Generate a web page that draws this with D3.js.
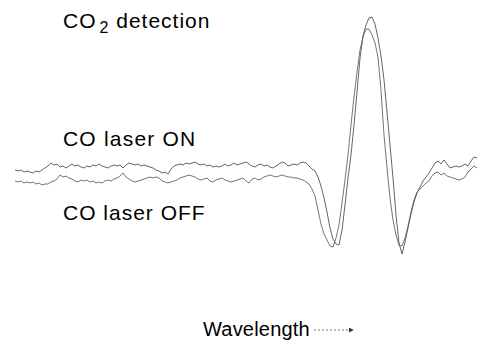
<!DOCTYPE html>
<html>
<head>
<meta charset="utf-8">
<script src="https://cdn.jsdelivr.net/npm/d3@7"></script>
<style>
  html, body { margin: 0; padding: 0; background: #fff; }
  svg { display: block; }
  text { font-family: "Liberation Sans", Arial, sans-serif; fill: #000; }
</style>
</head>
<body>
<svg id="chart" width="477" height="341"></svg>
<script>
// Signal (arbitrary units, baseline ~0) sampled at equal wavelength steps
const laserOn = [
  5,4,5,3,4,3,2,4,3,5,
  7,9,12,10,11,8,9,7,9,11,
  9,10,8,7,9,8,10,9,11,9,
  8,7,9,10,9,10,7,10,12,11,
  10,11,9,10,9,8,7,5,4,2,
  3,1,6,9,10,11,10,12,11,12,
  13,11,10,11,9,10,8,9,8,9,
  11,9,10,12,10,11,12,13,11,9,
  8,10,11,9,10,8,7,9,11,13,
  12,9,10,11,10,12,13,12,9,6,
  4,-2,-11,-23,-37,-53,-64,-69,-70,-55,
  -30,-3,20,50,83,117,139,150,157,158,
  151,137,119,95,63,30,-3,-40,-68,-79,
  -67,-53,-39,-27,-18,-12,-6,-2,2,7,
  12,14,11,15,11,7,8,9,8,9,
  11,9,14,18,17
];
const laserOff = [
  -6,-7,-6,-8,-7,-8,-7,-9,-8,-10,
  -9,-9,-7,-6,-4,0,-2,-1,-3,-4,
  -6,-7,-5,-6,-5,-7,-6,-8,-7,-8,
  -6,-5,-6,-4,-3,-1,2,-2,-4,-6,
  -7,-6,-5,-4,-3,-2,-3,-2,-3,-6,
  -7,-8,-7,-6,-5,-3,-2,-1,0,-1,
  -2,-4,-5,-4,-3,-6,-7,-5,-4,-3,
  -5,-6,-7,-6,-5,-4,-3,-6,-8,-4,
  -3,-5,-4,-2,-1,0,-1,-2,-1,0,
  -1,-2,-2,-3,-3,-4,-5,-7,-9,-14,
  -21,-35,-49,-59,-65,-71,-72,-63,-50,-28,
  -5,20,50,78,103,125,138,146,146,140,
  132,118,85,40,7,-23,-45,-60,-70,-71,
  -63,-51,-37,-25,-17,-14,-11,-8,-6,-1,
  2,3,0,2,-1,-2,-3,-4,-5,-4,
  -2,3,6,9,7
];
const seriesNames = ["CO laser ON", "CO laser OFF"];
const titleText = ["CO", "2", " detection"];
const xLabel = "Wavelength";

const svg = d3.select("#chart");

const x = d3.scaleLinear().domain([0, laserOn.length - 1]).range([15, 477]);
const y = d3.scaleLinear().domain([-100, 160]).range([275, 15]);

const line = d3.line()
  .x((d, i) => x(i))
  .y(d => y(d))
  .curve(d3.curveLinear);

svg.append("path").datum(laserOff)
  .attr("d", line).attr("fill", "none")
  .attr("stroke", "#666").attr("stroke-width", 0.9);
svg.append("path").datum(laserOn)
  .attr("d", line).attr("fill", "none")
  .attr("stroke", "#555").attr("stroke-width", 0.9);

// Title with subscript
const t = svg.append("text").attr("x", 63).attr("y", 28)
  .attr("font-size", 21).attr("letter-spacing", 1);
t.append("tspan").text(titleText[0]);
t.append("tspan").attr("dy", 5).attr("font-size", 16).attr("dx", 3).text(titleText[1]);
t.append("tspan").attr("dy", -5).text(titleText[2]);

svg.append("text").attr("x", 63).attr("y", 146)
  .attr("font-size", 21).attr("letter-spacing", 1.2).text(seriesNames[0]);
svg.append("text").attr("x", 63).attr("y", 220)
  .attr("font-size", 21).attr("letter-spacing", 1).text(seriesNames[1]);

svg.append("text").attr("x", 203).attr("y", 336)
  .attr("font-size", 20).attr("letter-spacing", 0.2).text(xLabel);

// dashed arrow after axis label
svg.append("defs").append("marker")
  .attr("id", "ah").attr("viewBox", "0 0 6 6").attr("refX", 5).attr("refY", 3)
  .attr("markerWidth", 5).attr("markerHeight", 5).attr("orient", "auto")
  .append("path").attr("d", "M0,0L6,3L0,6Z").attr("fill", "#333");
svg.append("line")
  .attr("x1", 314).attr("y1", 330).attr("x2", 353).attr("y2", 330)
  .attr("stroke", "#777").attr("stroke-width", 1)
  .attr("stroke-dasharray", "2,2")
  .attr("marker-end", "url(#ah)");
</script>
</body>
</html>
